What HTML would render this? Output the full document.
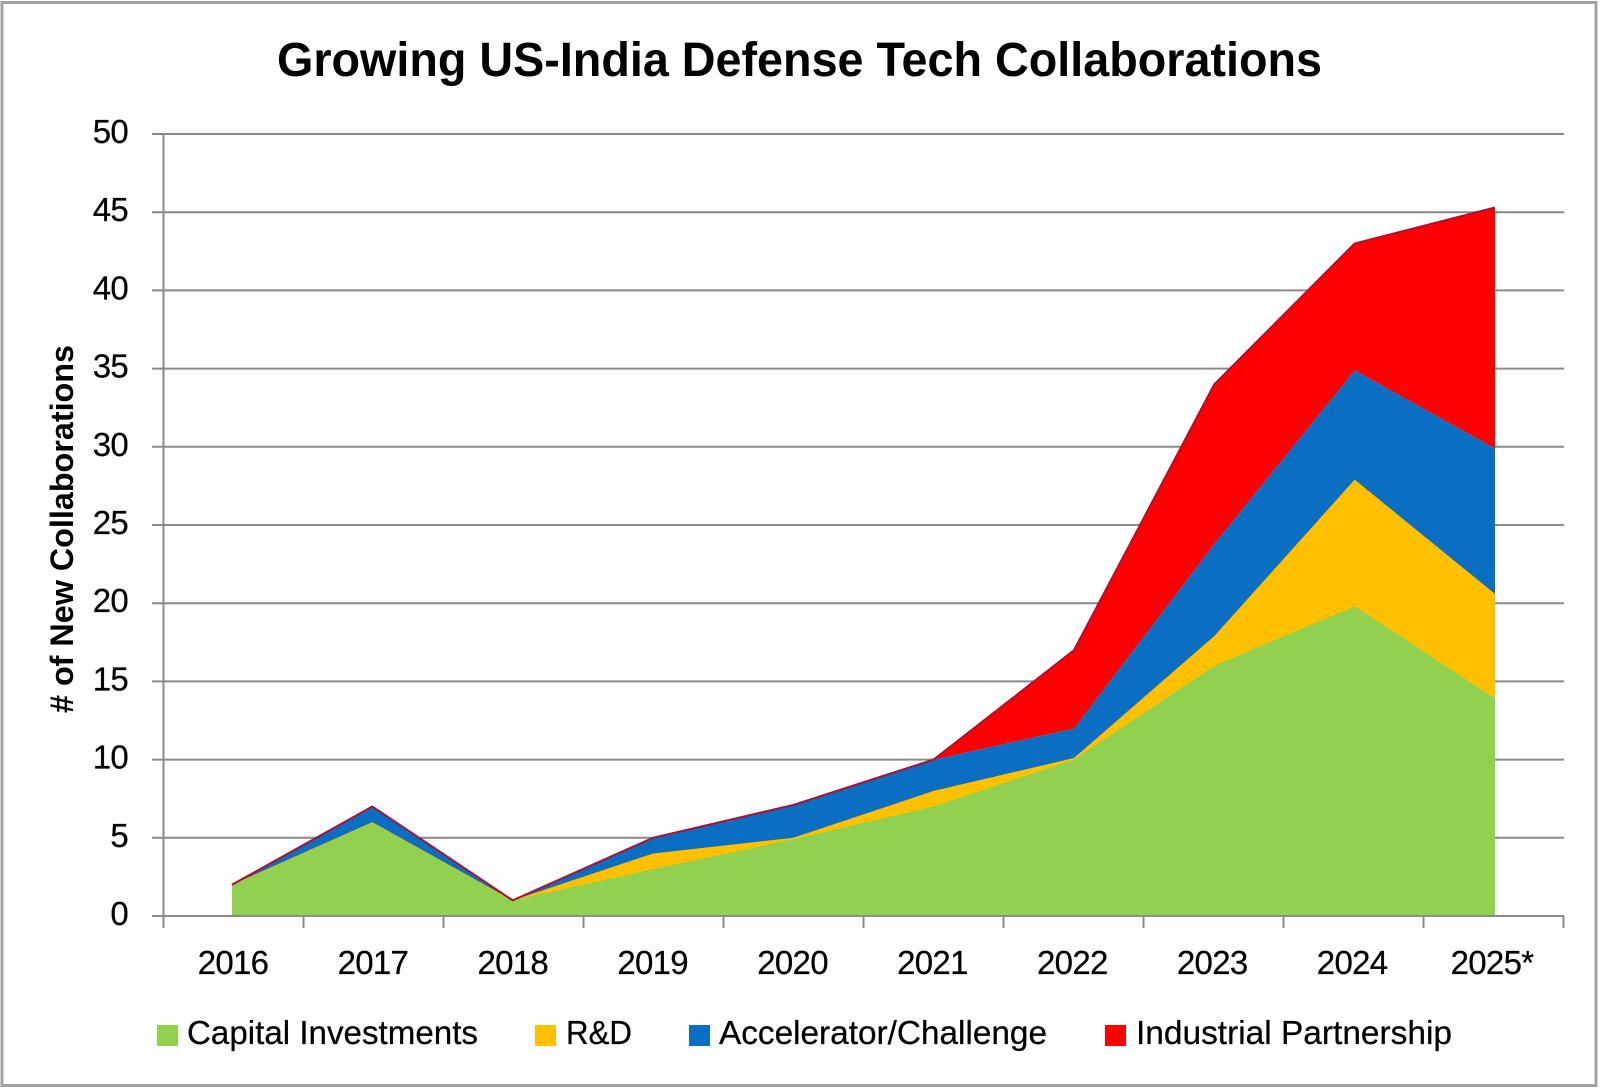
<!DOCTYPE html>
<html lang="en">
<head>
<meta charset="utf-8">
<title>Growing US-India Defense Tech Collaborations</title>
<style>
  html, body { margin: 0; padding: 0; background: #fff; }
  svg { display: block; font-family: "Liberation Sans", sans-serif; }
</style>
</head>
<body>
<svg id="chart" xmlns="http://www.w3.org/2000/svg" width="1600" height="1088" viewBox="0 0 1600 1088">
  <rect x="0" y="0" width="1600" height="1088" fill="#ffffff"/>
  <rect x="2" y="2.5" width="1594" height="1083" fill="none" stroke="#a3a3a3" stroke-width="3"/>
  <text x="277" y="76" font-size="48" font-weight="700" fill="#000" textLength="1045" lengthAdjust="spacingAndGlyphs">Growing US-India Defense Tech Collaborations</text>
  <text transform="translate(73,713) rotate(-90)" font-size="32" font-weight="700" fill="#000" textLength="368" lengthAdjust="spacingAndGlyphs"># of New Collaborations</text>
  <g id="grid"></g>
  <g id="areas"></g>
  <g id="axes"></g>
  <g id="labels" font-size="33" fill="#000" stroke="#000" stroke-width="0.25" letter-spacing="-0.7"></g>
  <g font-size="33" fill="#000" stroke="#000" stroke-width="0.25">
    <g>
      <rect x="157" y="1025" width="21" height="21" fill="#92D050" stroke="none"/>
      <text x="187" y="1044" textLength="291" lengthAdjust="spacingAndGlyphs">Capital Investments</text>
    </g>
    <g>
      <rect x="535" y="1025" width="21" height="21" fill="#FFC000" stroke="none"/>
      <text x="566" y="1044" textLength="66" lengthAdjust="spacingAndGlyphs">R&amp;D</text>
    </g>
    <g>
      <rect x="689" y="1025" width="21" height="21" fill="#0A6FC2" stroke="none"/>
      <text x="719" y="1044" textLength="328" lengthAdjust="spacingAndGlyphs">Accelerator/Challenge</text>
    </g>
    <g>
      <rect x="1105" y="1025" width="21" height="21" fill="#FF0000" stroke="none"/>
      <text x="1136" y="1044" textLength="316" lengthAdjust="spacingAndGlyphs">Industrial Partnership</text>
    </g>
  </g>
</svg>
<script>
const categories = ["2016", "2017", "2018", "2019", "2020", "2021", "2022", "2023", "2024", "2025*"];
const yTicks = [0, 5, 10, 15, 20, 25, 30, 35, 40, 45, 50];
const capitalInvestments = [2, 6, 1, 3, 4.9, 7, 10, 16, 19.8, 13.9];
const researchDevelopment = [0, 0, 0, 1, 0.1, 1, 0.1, 1.9, 8.1, 6.7];
const acceleratorChallenge = [0, 1, 0, 1, 2.1, 2, 1.9, 5.9, 7, 9.3];
const industrialPartnership = [0, 0, 0, 0, 0, 0, 5, 10.2, 8.1, 15.4];

const NS = "http://www.w3.org/2000/svg";
const yScale = v => 916 - (v / 50) * 782;
const pointX = i => 232 + i * (1263 / (categories.length - 1));
const labelX = i => 233 + i * (1259 / (categories.length - 1));
const tickX = i => 163.5 + i * (1400 / categories.length);

function make(tag, attrs, parent) {
  const el = document.createElementNS(NS, tag);
  for (const k in attrs) el.setAttribute(k, attrs[k]);
  parent.appendChild(el);
  return el;
}

const grid = document.getElementById("grid");
const areas = document.getElementById("areas");
const axes = document.getElementById("axes");
const labels = document.getElementById("labels");

yTicks.forEach(t => {
  if (t === 0) return;
  const line = make("line", { x1: 152, x2: 1564, y1: yScale(t), y2: yScale(t), stroke: "#8a8a8a", "stroke-width": 2 }, grid);
  
  
});

const seriesList = [
  { values: capitalInvestments, fill: "#92D050", edge: "#92D050", width: 1.2, key: "capital-investments" },
  { values: researchDevelopment, fill: "#FFC000", edge: "#FFC000", width: 1.2, key: "rd" },
  { values: acceleratorChallenge, fill: "#0A6FC2", edge: "#3f6fb0", width: 1.6, key: "accelerator-challenge" },
  { values: industrialPartnership, fill: "#FF0000", edge: "#ad1030", width: 2, key: "industrial-partnership" }
];

const running = categories.map(() => 0);
seriesList.forEach(s => {
  const lower = running.slice();
  s.values.forEach((v, i) => { running[i] += v; });
  const top = running.map((v, i) => pointX(i) + "," + yScale(v));
  const bottom = lower.map((v, i) => pointX(i) + "," + yScale(v)).reverse();
  const poly = make("polygon", { points: top.concat(bottom).join(" "), fill: s.fill }, areas);
  
  
  const edge = make("polyline", { points: top.join(" "), fill: "none", stroke: s.edge, "stroke-width": s.width, "stroke-linejoin": "round" }, areas);
  
  
});

const yAxis = make("line", { x1: 163.5, x2: 163.5, y1: yScale(50), y2: 928, stroke: "#8a8a8a", "stroke-width": 2 }, axes);



const xAxis = make("line", { x1: 152, x2: 1564, y1: yScale(0), y2: yScale(0), stroke: "#8a8a8a", "stroke-width": 2 }, axes);



categories.forEach((c, i) => {
  const tick = make("line", { x1: tickX(i + 1), x2: tickX(i + 1), y1: yScale(0), y2: 928, stroke: "#8a8a8a", "stroke-width": 2 }, axes);
  
  
  const label = make("text", { x: labelX(i), y: 974, "text-anchor": "middle" }, labels);
  label.textContent = c;
  
  
});

yTicks.forEach(t => {
  const label = make("text", { x: 128, y: yScale(t) + 9, "text-anchor": "end" }, labels);
  label.textContent = String(t);
  
  
});
</script>
</body>
</html>
